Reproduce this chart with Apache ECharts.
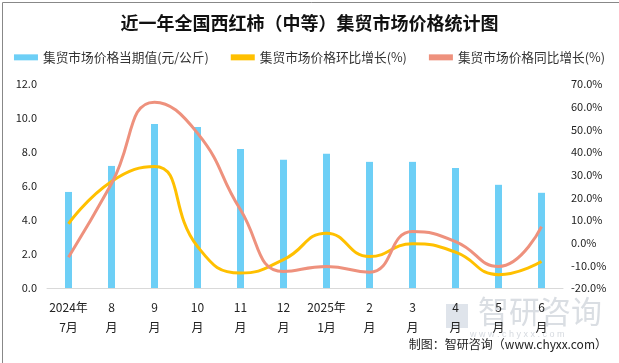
<!DOCTYPE html>
<html><head><meta charset="utf-8">
<script src="https://cdn.jsdelivr.net/npm/echarts@6/dist/echarts.min.js"></script>
<style>html,body{margin:0;padding:0;background:#fff}#c{width:619px;height:363px}</style>
</head><body><div id="c"></div>
<script>
const categories = ['2024年\n7月','8\n月','9\n月','10\n月','11\n月','12\n月','2025年\n1月','2\n月','3\n月','4\n月','5\n月','6\n月'];
const priceValues = [5.65, 7.18, 9.65, 9.47, 8.18, 7.54, 7.89, 7.42, 7.42, 7.06, 6.07, 5.60];
const momValues = [8.3, 27.0, 33.6, -1.7, -13.4, -7.5, 4.2, -6.1, -0.5, -4.2, -14.1, -8.3];
const yoyValues = [-6.4, 26.0, 62.0, 48.3, 14.5, -12.7, -10.5, -13.0, 4.9, 0.5, -10.5, 7.1];
const seriesNames = ['集贸市场价格当期值(元/公斤)','集贸市场价格环比增长(%)','集贸市场价格同比增长(%)'];

const chart = echarts.init(document.getElementById('c'), null, {renderer:'canvas'});
const font = 'Microsoft YaHei, "Noto Sans CJK SC", sans-serif';
chart.setOption({
  animation:false,
  textStyle:{fontFamily:font},
  title:{text:'近一年全国西红柿（中等）集贸市场价格统计图',left:'center',top:9,
    textStyle:{fontSize:18,fontWeight:'bold',color:'#111',fontFamily:font}},
  legend:{top:46,left:'center',itemGap:22,itemWidth:24,itemHeight:6,
    textStyle:{fontSize:12.7,color:'#333',fontFamily:font},
    data:[{name:seriesNames[0],icon:'rect'},{name:seriesNames[1],icon:'rect'},{name:seriesNames[2],icon:'rect'}]},
  grid:{left:47,right:56,top:84,bottom:75},
  xAxis:{type:'category',data:categories,
    axisLine:{lineStyle:{color:'#d9d9d9'}},axisTick:{show:false},
    axisLabel:{color:'#222',fontSize:12,lineHeight:20,margin:9,interval:0}},
  yAxis:[
    {type:'value',min:0,max:12,interval:2,
     axisLabel:{formatter:v=>v.toFixed(1),color:'#222',fontSize:11,margin:10},
     splitLine:{show:false},axisLine:{show:false},axisTick:{show:false}},
    {type:'value',min:-20,max:70,interval:10,
     axisLabel:{formatter:v=>v.toFixed(1)+'%',color:'#222',fontSize:11,margin:8},
     splitLine:{show:false},axisLine:{show:false},axisTick:{show:false}}
  ],
  series:[
    {name:seriesNames[0],type:'bar',data:priceValues,barWidth:7,itemStyle:{color:'#6DCFF6'}},
    {name:seriesNames[1],type:'line',yAxisIndex:1,data:momValues,smooth:0.5,symbol:'none',
     lineStyle:{color:'#FFC000',width:3},itemStyle:{color:'#FFC000'}},
    {name:seriesNames[2],type:'line',yAxisIndex:1,data:yoyValues,smooth:0.5,symbol:'none',
     lineStyle:{color:'#EE917D',width:3},itemStyle:{color:'#EE917D'}}
  ],
  graphic:[
    {type:'rect',left:0,top:0,shape:{width:618,height:362},style:{fill:'none',stroke:'#888',lineWidth:1},silent:true},
    {type:'rect',left:446,top:304,shape:{width:22,height:24},style:{fill:'rgba(150,165,190,0.3)'},silent:true},
    {type:'text',left:478,top:296,style:{text:'智研咨询',fontSize:31,fill:'rgba(150,160,175,0.35)',fontFamily:font}},
    {type:'text',left:470,top:330,style:{text:'w w w . c h y x x . c o m',fontSize:9,fill:'rgba(150,160,175,0.4)'}},
    {type:'text',right:12,top:338,style:{text:'制图：智研咨询（www.chyxx.com）',fontSize:12,fill:'#222',fontFamily:font}}
  ]
});
</script></body></html>
